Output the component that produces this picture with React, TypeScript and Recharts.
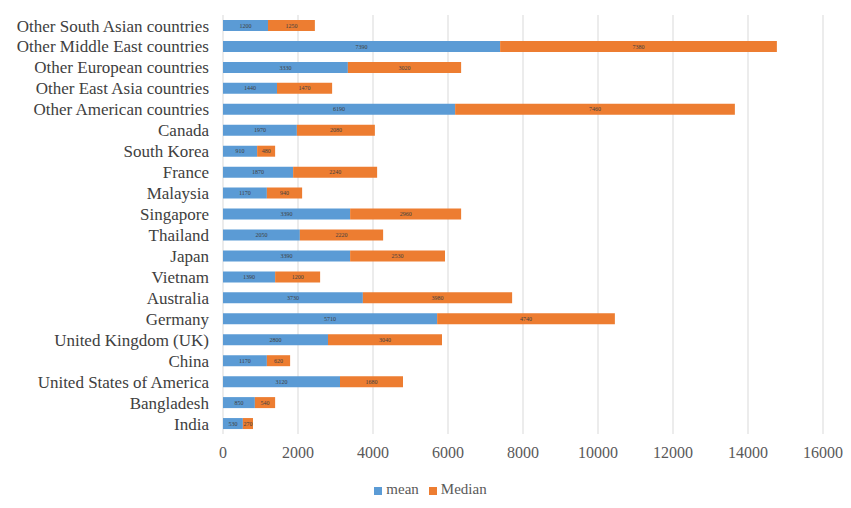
import React from "react";
import { BarChart, Bar, XAxis, YAxis, CartesianGrid, Legend, LabelList } from "recharts";

const categories = [
  "Other South Asian countries",
  "Other Middle East countries",
  "Other European countries",
  "Other East Asia countries",
  "Other American countries",
  "Canada",
  "South Korea",
  "France",
  "Malaysia",
  "Singapore",
  "Thailand",
  "Japan",
  "Vietnam",
  "Australia",
  "Germany",
  "United Kingdom (UK)",
  "China",
  "United States of America",
  "Bangladesh",
  "India",
];

const meanValues = [1200, 7390, 3330, 1440, 6190, 1970, 910, 1870, 1170, 3390, 2050, 3390, 1390, 3730, 5710, 2800, 1170, 3120, 850, 530];
const medianValues = [1250, 7380, 3020, 1470, 7460, 2080, 480, 2240, 940, 2960, 2220, 2530, 1200, 3980, 4740, 3040, 620, 1680, 540, 270];

const xTicks = [0, 2000, 4000, 6000, 8000, 10000, 12000, 14000, 16000];

const data = categories.map((name, i) => ({ name, mean: meanValues[i], Median: medianValues[i] }));

const serif = "Liberation Serif, Times New Roman, serif";

export default function App() {
  return (
    <div style={{ width: 840, height: 495, fontFamily: serif }}>
      <style>{`.recharts-text, .recharts-legend-item-text, .recharts-label { font-family: "Liberation Serif", serif !important; }`}</style>
      <BarChart
        width={840}
        height={495}
        data={data}
        layout="vertical"
        margin={{ top: 7, right: 25, bottom: 5, left: 0 }}
        barSize={11}
      >
        <CartesianGrid horizontal={false} stroke="#d9d9d9" />
        <XAxis
          type="number"
          domain={[0, 16000]}
          ticks={xTicks}
          axisLine={false}
          tickLine={false}
          tickMargin={7}
          tick={{ fontSize: 16, fill: "#595959", fontFamily: serif }}
          height={47}
          interval={0}
        />
        <YAxis
          type="category"
          dataKey="name"
          width={215}
          axisLine={false}
          tickLine={false}
          tickSize={0}
          tickMargin={14}
          interval={0}
          tick={{ fontSize: 17, fill: "#404040", fontFamily: serif }}
        />
        <Legend
          verticalAlign="bottom"
          iconType="square"
          iconSize={8}
          itemSorter={(item: any) => (item.value === "mean" ? 0 : 1)}
          formatter={(value: string) => <span style={{ color: "#595959" }}>{value}</span>}
          wrapperStyle={{ fontFamily: serif, fontSize: 15, paddingLeft: 20 }}
        />
        <Bar dataKey="mean" stackId="a" fill="#5B9BD5" isAnimationActive={false}>
          <LabelList dataKey="mean" position="center" fontSize={6} fill="#404040" />
        </Bar>
        <Bar dataKey="Median" stackId="a" fill="#ED7D31" isAnimationActive={false}>
          <LabelList dataKey="Median" position="center" fontSize={6} fill="#404040" />
        </Bar>
      </BarChart>
    </div>
  );
}
